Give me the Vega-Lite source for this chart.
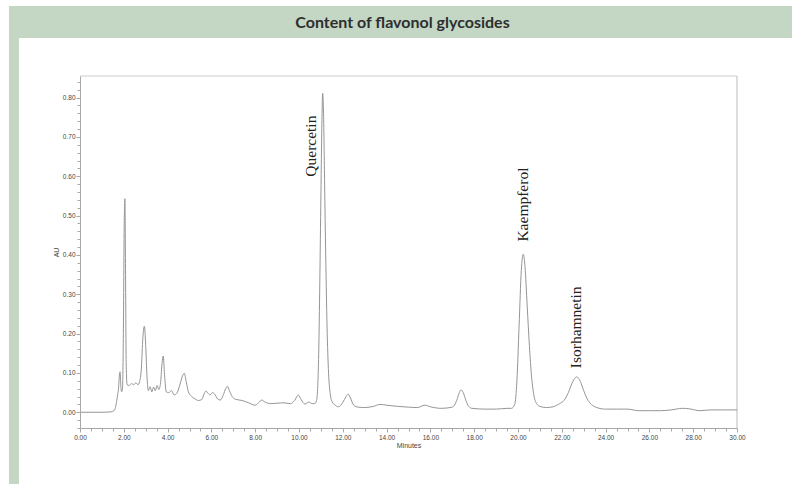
{
  "$schema": "https://vega.github.io/schema/vega-lite/v6.json",
  "width": 657,
  "height": 352,
  "autosize": {"type": "none"},
  "padding": {"left": 80, "top": 76, "right": 55, "bottom": 56},
  "background": "white",
  "title": {"text": "Content of flavonol glycosides", "font": "Lato", "fontSize": 16, "fontWeight": "bold", "color": "#2e2e2e", "anchor": "middle", "frame": "group", "offset": -25, "dx": -6, "zindex": 1},
  "config": {
    "view": {"stroke": null},
    "axis": {"grid": false, "domainColor": "#a8a8a8", "tickColor": "#a8a8a8", "labelColor": "#444444", "labelFont": "Liberation Sans", "labelFontSize": 6.5, "titleFont": "Liberation Sans", "titleFontSize": 7, "titleFontWeight": "normal", "titleColor": "#444444", "labelOverlap": false, "labelFlush": false}
  },
  "datasets": {
    "trace": [
      {"t":0.00,"v":0.000},{"t":0.50,"v":0.000},{"t":1.00,"v":0.000},{"t":1.40,"v":0.001},{"t":1.55,"v":0.004},
      {"t":1.62,"v":0.012},{"t":1.68,"v":0.030},{"t":1.72,"v":0.045},{"t":1.76,"v":0.060},{"t":1.80,"v":0.095},
      {"t":1.83,"v":0.103},{"t":1.86,"v":0.070},{"t":1.90,"v":0.052},{"t":1.94,"v":0.060},{"t":1.98,"v":0.200},
      {"t":2.02,"v":0.480},{"t":2.05,"v":0.543},{"t":2.08,"v":0.350},{"t":2.11,"v":0.120},{"t":2.15,"v":0.070},
      {"t":2.25,"v":0.068},{"t":2.35,"v":0.073},{"t":2.45,"v":0.070},{"t":2.55,"v":0.075},{"t":2.65,"v":0.070},
      {"t":2.72,"v":0.078},{"t":2.80,"v":0.110},{"t":2.87,"v":0.190},{"t":2.94,"v":0.219},{"t":3.00,"v":0.170},
      {"t":3.06,"v":0.090},{"t":3.12,"v":0.055},{"t":3.20,"v":0.065},{"t":3.28,"v":0.052},{"t":3.36,"v":0.064},
      {"t":3.44,"v":0.055},{"t":3.52,"v":0.068},{"t":3.60,"v":0.058},{"t":3.68,"v":0.075},{"t":3.74,"v":0.120},
      {"t":3.80,"v":0.143},{"t":3.86,"v":0.095},{"t":3.94,"v":0.052},{"t":4.05,"v":0.050},{"t":4.18,"v":0.055},
      {"t":4.30,"v":0.044},{"t":4.42,"v":0.048},{"t":4.55,"v":0.068},{"t":4.68,"v":0.092},{"t":4.76,"v":0.099},
      {"t":4.85,"v":0.078},{"t":4.95,"v":0.052},{"t":5.10,"v":0.040},{"t":5.25,"v":0.034},{"t":5.40,"v":0.030},
      {"t":5.55,"v":0.032},{"t":5.68,"v":0.048},{"t":5.75,"v":0.054},{"t":5.85,"v":0.048},{"t":5.94,"v":0.044},
      {"t":6.05,"v":0.050},{"t":6.15,"v":0.046},{"t":6.28,"v":0.034},{"t":6.40,"v":0.031},{"t":6.55,"v":0.045},
      {"t":6.65,"v":0.060},{"t":6.73,"v":0.066},{"t":6.82,"v":0.055},{"t":6.95,"v":0.040},{"t":7.10,"v":0.033},
      {"t":7.40,"v":0.030},{"t":7.70,"v":0.024},{"t":8.00,"v":0.018},{"t":8.15,"v":0.024},{"t":8.30,"v":0.031},
      {"t":8.45,"v":0.026},{"t":8.70,"v":0.022},{"t":9.00,"v":0.023},{"t":9.30,"v":0.024},{"t":9.60,"v":0.022},
      {"t":9.80,"v":0.030},{"t":9.97,"v":0.044},{"t":10.10,"v":0.032},{"t":10.27,"v":0.021},{"t":10.45,"v":0.026},
      {"t":10.60,"v":0.022},{"t":10.72,"v":0.022},{"t":10.80,"v":0.030},{"t":10.85,"v":0.060},{"t":10.90,"v":0.150},
      {"t":10.95,"v":0.330},{"t":11.00,"v":0.550},{"t":11.05,"v":0.750},{"t":11.08,"v":0.811},{"t":11.12,"v":0.760},
      {"t":11.17,"v":0.580},{"t":11.22,"v":0.400},{"t":11.28,"v":0.220},{"t":11.35,"v":0.100},{"t":11.42,"v":0.050},
      {"t":11.50,"v":0.028},{"t":11.65,"v":0.018},{"t":11.80,"v":0.014},{"t":12.00,"v":0.025},{"t":12.15,"v":0.040},
      {"t":12.25,"v":0.046},{"t":12.35,"v":0.036},{"t":12.50,"v":0.018},{"t":12.70,"v":0.013},{"t":13.00,"v":0.012},
      {"t":13.40,"v":0.015},{"t":13.70,"v":0.020},{"t":14.00,"v":0.018},{"t":14.50,"v":0.015},{"t":15.00,"v":0.013},
      {"t":15.40,"v":0.012},{"t":15.75,"v":0.018},{"t":16.00,"v":0.014},{"t":16.50,"v":0.010},{"t":17.00,"v":0.013},
      {"t":17.20,"v":0.030},{"t":17.32,"v":0.050},{"t":17.40,"v":0.057},{"t":17.50,"v":0.050},{"t":17.62,"v":0.030},
      {"t":17.75,"v":0.015},{"t":17.90,"v":0.010},{"t":18.50,"v":0.008},{"t":19.00,"v":0.008},{"t":19.50,"v":0.010},
      {"t":19.70,"v":0.010},{"t":19.85,"v":0.020},{"t":19.95,"v":0.080},{"t":20.05,"v":0.220},{"t":20.15,"v":0.360},
      {"t":20.24,"v":0.402},{"t":20.32,"v":0.370},{"t":20.42,"v":0.270},{"t":20.52,"v":0.170},{"t":20.62,"v":0.090},
      {"t":20.72,"v":0.045},{"t":20.85,"v":0.022},{"t":21.00,"v":0.015},{"t":21.30,"v":0.012},{"t":21.60,"v":0.014},
      {"t":21.90,"v":0.022},{"t":22.10,"v":0.030},{"t":22.30,"v":0.050},{"t":22.50,"v":0.078},{"t":22.68,"v":0.090},
      {"t":22.85,"v":0.078},{"t":23.00,"v":0.055},{"t":23.15,"v":0.035},{"t":23.35,"v":0.020},{"t":23.60,"v":0.012},
      {"t":24.00,"v":0.008},{"t":24.50,"v":0.008},{"t":25.00,"v":0.008},{"t":25.50,"v":0.004},{"t":26.00,"v":0.004},
      {"t":26.50,"v":0.004},{"t":27.00,"v":0.006},{"t":27.50,"v":0.010},{"t":27.80,"v":0.009},{"t":28.30,"v":0.004},
      {"t":28.80,"v":0.006},{"t":29.40,"v":0.006},{"t":30.00,"v":0.006}
    ],
    "labels": [
      {"compound": "Quercetin", "t": 10.55, "v": 0.599},
      {"compound": "Kaempferol", "t": 20.25, "v": 0.434},
      {"compound": "Isorhamnetin", "t": 22.65, "v": 0.112}
    ]
  },
  "layer": [
    {
      "data": {"values": [{}]},
      "mark": {"type": "rect", "color": "#c3d7c4"},
      "encoding": {
        "x": {"datum": -3.242, "type": "quantitative", "title": "Minutes", "scale": {"domain": [0, 30], "nice": false, "zero": false}},
        "x2": {"datum": 32.51},
        "y": {"datum": 1.033, "type": "quantitative", "title": "AU", "scale": {"domain": [-0.04, 0.855], "nice": false, "zero": false}},
        "y2": {"datum": -0.1824}
      }
    },
    {
      "data": {"values": [{}]},
      "mark": {"type": "rect", "color": "white"},
      "encoding": {
        "x": {"datum": -2.785, "type": "quantitative", "title": "Minutes", "scale": {"domain": [0, 30], "nice": false, "zero": false}},
        "x2": {"datum": 32.51},
        "y": {"datum": 0.9516, "type": "quantitative", "title": "AU", "scale": {"domain": [-0.04, 0.855], "nice": false, "zero": false}},
        "y2": {"datum": -0.1824}
      }
    },
    {
      "data": {"values": [{}]},
      "mark": {"type": "rule", "color": "#cccccc", "strokeWidth": 1},
      "encoding": {
        "y": {"datum": 0.855, "type": "quantitative", "title": "AU", "scale": {"domain": [-0.04, 0.855], "nice": false, "zero": false}}
      }
    },
    {
      "data": {"values": [{}]},
      "mark": {"type": "rule", "color": "#bbbbbb", "strokeWidth": 1},
      "encoding": {
        "x": {"datum": 30, "type": "quantitative", "title": "Minutes", "scale": {"domain": [0, 30], "nice": false, "zero": false}}
      }
    },
    {
      "data": {"name": "trace"},
      "mark": {"type": "line", "color": "#959595", "strokeWidth": 1, "interpolate": "monotone"},
      "encoding": {
        "x": {"field": "t", "type": "quantitative", "title": "Minutes", "scale": {"domain": [0, 30], "nice": false, "zero": false},
          "axis": {
            "zindex": 2,
            "tickCount": 200,
            "labelOverlap": false,
            "values": [0,0.5,1,1.5,2,2.5,3,3.5,4,4.5,5,5.5,6,6.5,7,7.5,8,8.5,9,9.5,10,10.5,11,11.5,12,12.5,13,13.5,14,14.5,15,15.5,16,16.5,17,17.5,18,18.5,19,19.5,20,20.5,21,21.5,22,22.5,23,23.5,24,24.5,25,25.5,26,26.5,27,27.5,28,28.5,29,29.5,30],
            "labelExpr": "datum.value % 2 === 0 ? format(datum.value, '.2f') : ''",
            "tickSize": {"condition": {"test": "datum.value % 2 === 0", "value": 4}, "value": 3},
            "labelPadding": 2,
            "titleY": 13,
            "titleBaseline": "top"
          }
        },
        "y": {"field": "v", "type": "quantitative", "title": "AU", "scale": {"domain": [-0.04, 0.855], "nice": false, "zero": false},
          "axis": {
            "zindex": 2,
            "tickCount": 200,
            "labelOverlap": false,
            "values": [-0.04,-0.02,0,0.02,0.04,0.06,0.08,0.1,0.12,0.14,0.16,0.18,0.2,0.22,0.24,0.26,0.28,0.3,0.32,0.34,0.36,0.38,0.4,0.42,0.44,0.46,0.48,0.5,0.52,0.54,0.56,0.58,0.6,0.62,0.64,0.66,0.68,0.7,0.72,0.74,0.76,0.78,0.8,0.82,0.84],
            "labelExpr": "abs(round(datum.value * 100)) % 10 === 0 && datum.value >= 0 ? format(datum.value, '.2f') : ''",
            "tickSize": {"condition": {"test": "abs(round(datum.value * 100)) % 10 === 0", "value": 4}, "value": 3},
            "labelPadding": 1,
            "titleX": -24,
            "titleY": 176,
            "titleAngle": -90,
            "titleAlign": "center",
            "titleBaseline": "middle"
          }
        }
      }
    },
    {
      "data": {"name": "labels"},
      "mark": {"type": "text", "angle": 270, "align": "left", "baseline": "middle", "font": "Liberation Serif", "fontSize": 15.5, "color": "#222222"},
      "encoding": {
        "x": {"field": "t", "type": "quantitative", "title": "Minutes", "scale": {"domain": [0, 30], "nice": false, "zero": false}},
        "y": {"field": "v", "type": "quantitative", "title": "AU", "scale": {"domain": [-0.04, 0.855], "nice": false, "zero": false}},
        "text": {"field": "compound"}
      }
    }
  ]
}
